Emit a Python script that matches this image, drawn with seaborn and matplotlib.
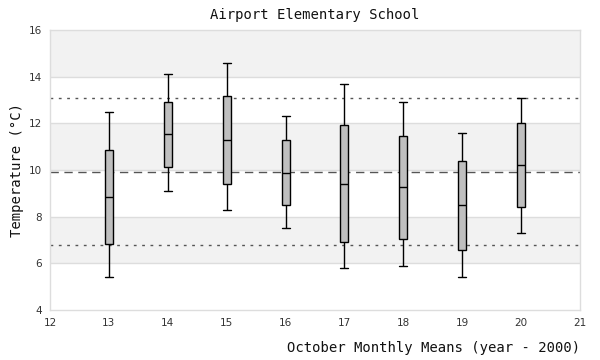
import numpy as np
import pandas as pd
import matplotlib
matplotlib.use("Agg")
import matplotlib.pyplot as plt
import seaborn as sns

years = [13, 14, 15, 16, 17, 18, 19, 20]
lows = [5.4, 9.1, 8.3, 7.5, 5.8, 5.9, 5.4, 7.3]
q1s = [6.83, 10.12, 9.39, 8.49, 6.9, 7.03, 6.56, 8.4]
medians = [8.84, 11.53, 11.27, 9.86, 9.39, 9.26, 8.49, 10.2]
q3s = [10.84, 12.9, 13.16, 11.27, 11.92, 11.44, 10.37, 12.0]
highs = [12.47, 14.1, 14.57, 12.3, 13.67, 12.9, 11.57, 13.07]
mean_line = 9.9
upper_line = 13.07
lower_line = 6.77

rows = []
for y, a, b, c, d, e in zip(years, lows, q1s, medians, q3s, highs):
    for v in (a, b, c, d, e):
        rows.append({"year": y, "temp": v})
df = pd.DataFrame(rows)

sns.set_style("white")
fig = plt.figure(figsize=(6, 3.6), dpi=100)
ax = fig.add_axes([50/600, 1-310/360, 530/600, 280/360])

# alternating bands
for lo in (6, 10, 14):
    ax.axhspan(lo, lo + 2, color="#f2f2f2", zorder=0, lw=0)
for g in range(6, 16, 2):
    ax.axhline(g, color="#dddddd", lw=1, zorder=0.5)

ax.axhline(mean_line, color="#555555", lw=1, ls=(0, (6, 4)), zorder=1)
ax.axhline(upper_line, color="#555555", lw=1, ls=(0, (2, 4)), zorder=1)
ax.axhline(lower_line, color="#555555", lw=1, ls=(0, (2, 4)), zorder=1)

sns.boxplot(data=df, x="year", y="temp", native_scale=True, whis=np.inf,
            width=0.136, color="#bfbfbf", linecolor="black", linewidth=1,
            showcaps=True, ax=ax, zorder=3,
            boxprops=dict(facecolor="#bfbfbf", edgecolor="black", zorder=3),
            capprops=dict(color="black"), whiskerprops=dict(color="black"),
            medianprops=dict(color="black"), capwidths=0.136)

ax.set_xlim(12, 21)
ax.set_ylim(4, 16)
ax.set_xticks(range(12, 22))
ax.set_yticks(range(4, 17, 2))
ax.tick_params(axis="both", length=0, labelsize=7.5, colors="#333333", pad=6)
for s in ax.spines.values():
    s.set_color("#dddddd")
    s.set_linewidth(1)
    s.set_visible(True)

mono = "DejaVu Sans Mono"
ax.set_title("Airport Elementary School", fontfamily=mono, fontsize=10,
             color="#111111", pad=8)
ax.set_ylabel("Temperature (°C)", fontfamily=mono, fontsize=10, color="#111111", labelpad=3)
ax.set_xlabel("October Monthly Means (year - 2000)", fontfamily=mono, fontsize=10,
              color="#111111", loc="right", labelpad=9)

fig.savefig("out.png", dpi=100)
